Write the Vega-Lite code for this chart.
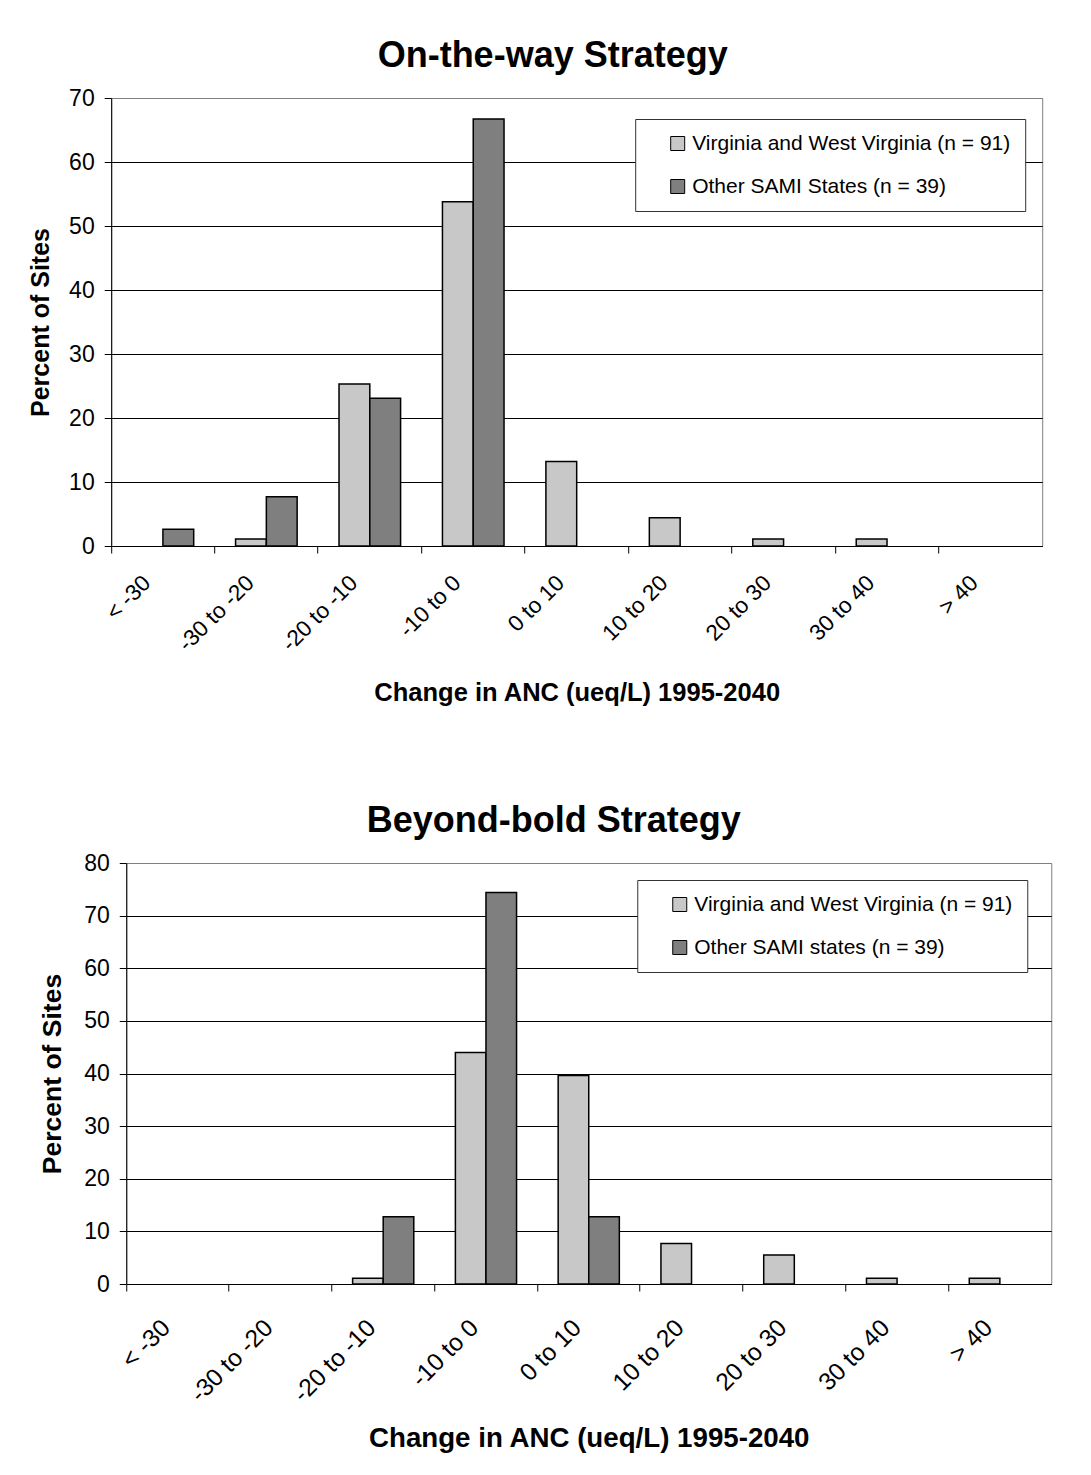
{
  "$schema": "https://vega.github.io/schema/vega-lite/v6.json",
  "padding": {"left": 28, "top": 37, "right": 0, "bottom": 0},
  "spacing": 95,
  "center": true,
  "config": {
    "font": "Liberation Sans",
    "view": {"stroke": "#808080", "strokeWidth": 1},
    "axis": {"domainColor": "black", "tickColor": "black", "labelColor": "black", "titleColor": "black", "tickSize": 7, "domainWidth": 1, "tickWidth": 1}
  },
  "resolve": {"scale": {"color": "independent", "xOffset": "independent", "x": "independent", "y": "independent"}, "legend": {"color": "independent"}},
  "vconcat": [
    {
      "width": 931,
      "height": 448,
      "title": {"text": "On-the-way Strategy", "fontSize": 36, "fontWeight": "bold", "anchor": "middle", "dx": -24, "offset": 12, "color": "black"},
      "data": {"values": [
        {"bin": "< -30", "series": "Other SAMI States (n = 39)", "percent": 2.6},
        {"bin": "-30 to -20", "series": "Virginia and West Virginia (n = 91)", "percent": 1.1},
        {"bin": "-30 to -20", "series": "Other SAMI States (n = 39)", "percent": 7.7},
        {"bin": "-20 to -10", "series": "Virginia and West Virginia (n = 91)", "percent": 25.3},
        {"bin": "-20 to -10", "series": "Other SAMI States (n = 39)", "percent": 23.1},
        {"bin": "-10 to 0", "series": "Virginia and West Virginia (n = 91)", "percent": 53.8},
        {"bin": "-10 to 0", "series": "Other SAMI States (n = 39)", "percent": 66.7},
        {"bin": "0 to 10", "series": "Virginia and West Virginia (n = 91)", "percent": 13.2},
        {"bin": "10 to 20", "series": "Virginia and West Virginia (n = 91)", "percent": 4.4},
        {"bin": "20 to 30", "series": "Virginia and West Virginia (n = 91)", "percent": 1.1},
        {"bin": "30 to 40", "series": "Virginia and West Virginia (n = 91)", "percent": 1.1}
      ]},
      "encoding": {
        "x": {
          "field": "bin", "type": "nominal",
          "scale": {"domain": ["< -30", "-30 to -20", "-20 to -10", "-10 to 0", "0 to 10", "10 to 20", "20 to 30", "30 to 40", "> 40"], "paddingInner": 0, "paddingOuter": 0},
          "axis": {"title": "Change in ANC (ueq/L) 1995-2040", "titleFontSize": 25.5, "titleFontWeight": "bold", "titlePadding": 25, "labelFontSize": 22.5, "labelAngle": -45, "labelAlign": "right", "labelBaseline": "middle", "bandPosition": 0, "labelOffset": -16, "labelPadding": 26, "grid": false}
        },
        "xOffset": {"field": "series", "type": "nominal", "scale": {"domain": ["Virginia and West Virginia (n = 91)", "Other SAMI States (n = 39)"], "paddingOuter": 0.68, "paddingInner": 0}}
      },
      "layer": [
        {
          "mark": {"type": "bar", "stroke": "black", "strokeWidth": 1.5},
          "encoding": {
            "y": {
              "field": "percent", "type": "quantitative",
              "scale": {"domain": [0, 70]},
              "axis": {"title": "Percent of Sites", "titleFontSize": 25, "titleFontWeight": "bold", "titlePadding": 15, "labelFontSize": 23, "labelPadding": 10, "values": [0, 10, 20, 30, 40, 50, 60, 70], "grid": true, "gridColor": {"condition": {"test": "datum.value === 70", "value": "#808080"}, "value": "black"}}
            },
            "color": {
              "field": "series", "type": "nominal",
              "scale": {"domain": ["Virginia and West Virginia (n = 91)", "Other SAMI States (n = 39)"], "range": ["#c8c8c8", "#7f7f7f"]},
              "legend": {"title": null, "orient": "none", "legendX": 524, "legendY": 21, "padding": 14, "symbolOffset": 18, "strokeColor": "#333333", "fillColor": "white", "symbolType": "square", "symbolSize": 196, "symbolStrokeColor": "black", "symbolStrokeWidth": 1, "labelFontSize": 21, "labelColor": "black", "labelOffset": 4, "rowPadding": 21, "labelLimit": 400}
            }
          }
        },
        {
          "mark": {"type": "bar", "opacity": 0},
          "encoding": {
            "y": {
              "field": "percent", "type": "quantitative",
              "scale": {"domain": [0, 70]},
              "axis": {"orient": "right", "title": null, "ticks": false, "domain": false, "grid": false, "labelColor": "#ffffff", "labelFontSize": 10, "labelPadding": 13, "values": [0, 70]}
            }
          }
        }
      ],
      "resolve": {"axis": {"y": "independent"}}
    },
    {
      "width": 925,
      "height": 421,
      "title": {"text": "Beyond-bold Strategy", "fontSize": 36, "fontWeight": "bold", "anchor": "middle", "dx": -35, "offset": 12, "color": "black"},
      "data": {"values": [
        {"bin": "-20 to -10", "series": "Virginia and West Virginia (n = 91)", "percent": 1.1},
        {"bin": "-20 to -10", "series": "Other SAMI states (n = 39)", "percent": 12.8},
        {"bin": "-10 to 0", "series": "Virginia and West Virginia (n = 91)", "percent": 44.0},
        {"bin": "-10 to 0", "series": "Other SAMI states (n = 39)", "percent": 74.4},
        {"bin": "0 to 10", "series": "Virginia and West Virginia (n = 91)", "percent": 39.6},
        {"bin": "0 to 10", "series": "Other SAMI states (n = 39)", "percent": 12.8},
        {"bin": "10 to 20", "series": "Virginia and West Virginia (n = 91)", "percent": 7.7},
        {"bin": "20 to 30", "series": "Virginia and West Virginia (n = 91)", "percent": 5.5},
        {"bin": "30 to 40", "series": "Virginia and West Virginia (n = 91)", "percent": 1.1},
        {"bin": "> 40", "series": "Virginia and West Virginia (n = 91)", "percent": 1.1}
      ]},
      "mark": {"type": "bar", "stroke": "black", "strokeWidth": 1.5},
      "encoding": {
        "x": {
          "field": "bin", "type": "nominal",
          "scale": {"domain": ["< -30", "-30 to -20", "-20 to -10", "-10 to 0", "0 to 10", "10 to 20", "20 to 30", "30 to 40", "> 40"], "paddingInner": 0, "paddingOuter": 0},
          "axis": {"title": "Change in ANC (ueq/L) 1995-2040", "titleFontSize": 27.7, "titleFontWeight": "bold", "titlePadding": 18, "labelFontSize": 24.5, "labelAngle": -45, "labelAlign": "right", "labelBaseline": "middle", "bandPosition": 0, "labelOffset": -11, "labelPadding": 33, "grid": false}
        },
        "xOffset": {"field": "series", "type": "nominal", "scale": {"domain": ["Virginia and West Virginia (n = 91)", "Other SAMI states (n = 39)"], "paddingOuter": 0.68, "paddingInner": 0}},
        "y": {
          "field": "percent", "type": "quantitative",
          "scale": {"domain": [0, 80]},
          "axis": {"title": "Percent of Sites", "titleFontSize": 26.5, "titleFontWeight": "bold", "titlePadding": 17, "labelFontSize": 23, "labelPadding": 10, "values": [0, 10, 20, 30, 40, 50, 60, 70, 80], "grid": true, "gridColor": {"condition": {"test": "datum.value === 80", "value": "#808080"}, "value": "black"}}
        },
        "color": {
          "field": "series", "type": "nominal",
          "scale": {"domain": ["Virginia and West Virginia (n = 91)", "Other SAMI states (n = 39)"], "range": ["#c8c8c8", "#7f7f7f"]},
          "legend": {"title": null, "orient": "none", "legendX": 511, "legendY": 17, "padding": 14, "symbolOffset": 18, "strokeColor": "#333333", "fillColor": "white", "symbolType": "square", "symbolSize": 196, "symbolStrokeColor": "black", "symbolStrokeWidth": 1, "labelFontSize": 21, "labelColor": "black", "labelOffset": 4, "rowPadding": 21, "labelLimit": 400}
        }
      }
    }
  ]
}
